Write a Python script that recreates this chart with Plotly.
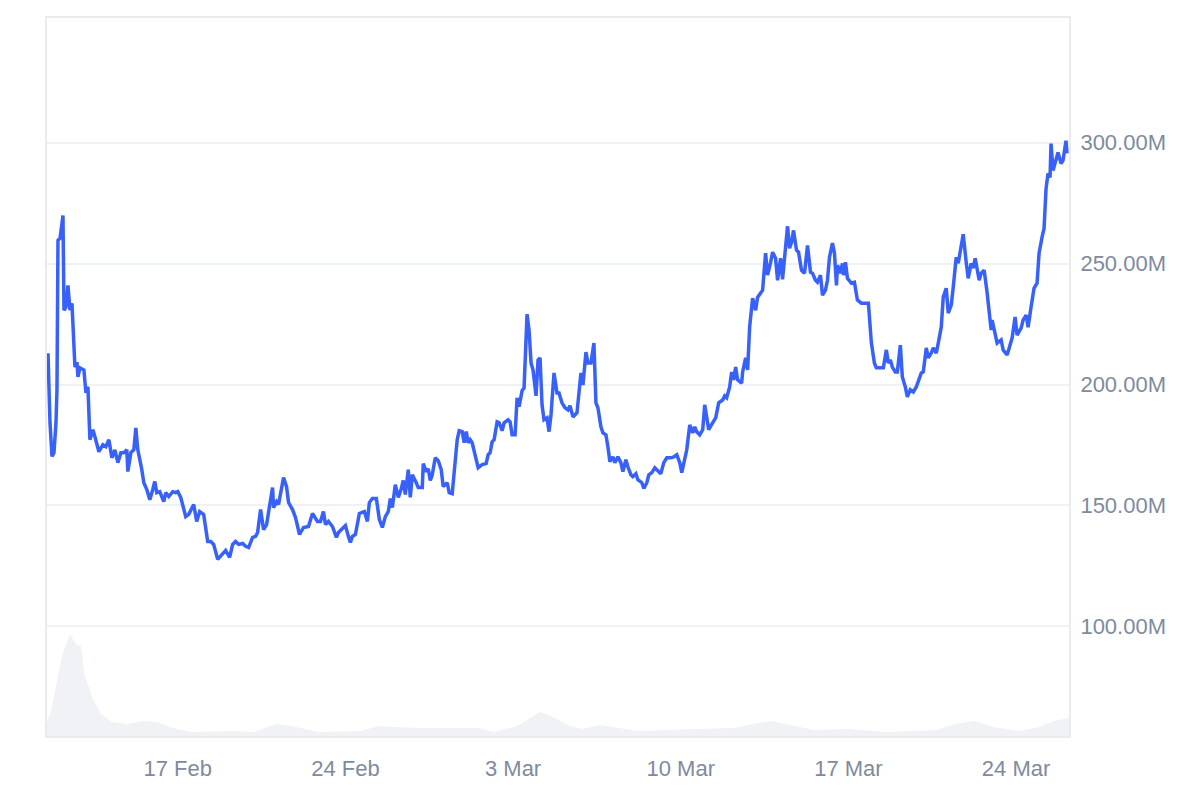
import plotly.graph_objects as go
import pandas as pd

START = pd.Timestamp("2025-02-11 00:00")

# market cap, hours since START -> millions USD
HOURS = [
    14, 16, 18, 20, 22, 23, 24, 26, 28, 29, 30, 32, 34, 36, 38, 40, 41, 43, 44, 46,
    50, 52, 54, 56, 59, 61, 65, 69, 72, 75, 78, 81, 84, 87, 90, 93, 94, 97, 100, 102,
    104, 108, 110, 113, 116, 119, 121, 123, 126, 130, 132, 135, 139, 142, 144, 147, 150, 152, 155, 160,
    163, 166, 170, 174, 177, 180, 184, 187, 192, 196, 199, 202, 205, 209, 212, 215, 219, 222, 224, 227,
    230, 233, 236, 239, 240, 243, 245, 248, 250, 253, 255, 259, 262, 266,
    270, 275, 279, 284, 287, 290, 292, 295, 299, 303, 305, 309, 312, 315, 317, 319, 322, 326, 329, 331,
    334, 336, 339, 343, 346, 349, 352, 355, 357, 359, 362, 365, 368, 370, 372, 375, 377, 379, 383, 385,
    389, 390, 393, 395, 397, 399, 402, 405, 408, 410, 414, 416, 419, 421, 424, 426, 429, 431, 433, 435,
    437, 439, 442, 445, 449, 453, 455, 457, 459, 461, 464, 466, 469, 471, 475, 477, 479, 482, 484, 486,
    489, 491, 494, 496, 498, 500, 503, 505, 507, 509, 511, 514, 516, 518, 521,
    524, 526, 529, 532, 535, 537, 540, 544, 548, 550, 553, 555, 558, 561, 563, 565, 568, 570, 573, 575,
    577, 580, 582, 585, 588, 590, 593, 595, 598, 600, 603, 605, 609, 611, 614, 616, 619, 622, 625, 628,
    631, 634, 638, 641, 644, 647, 649, 652, 654, 657, 660, 662, 664, 667, 670, 672, 674, 676, 680, 683,
    686, 690, 692, 694, 697, 699, 701, 703, 705, 709, 710, 713, 715, 717, 720, 723, 725, 728, 730, 733,
    735, 738, 740, 743, 745, 748, 750, 753, 755, 757, 759, 761, 764, 766, 769, 772, 775,
    778, 780, 783, 785, 788, 790, 793, 795, 797, 800, 802, 804, 805, 808, 810, 811, 813, 815, 819, 822,
    825, 829, 832, 836, 839, 842, 844, 848, 851, 854, 856, 858, 860, 863, 865, 868, 870, 873, 875, 878,
    881, 884, 886, 889, 891, 894, 896, 899, 901, 904, 906, 909, 911, 914, 916, 919, 921, 924, 926, 929,
    931, 934, 936, 939, 941, 943, 945, 947, 949, 952, 955, 957, 959, 960, 963, 965, 969, 971, 975, 977,
    980, 983, 985, 989, 991, 994, 996, 999, 1002, 1005, 1007, 1010, 1012, 1014, 1016, 1018, 1019, 1021, 1024, 1026,
    1029, 1031, 1034, 1035,
]
MCAP = [
    212.9, 184.2, 170.3, 171.8, 184.2, 197.8, 259.6, 260.4, 266.6, 269.9, 230.7, 232.0, 241.0, 230.7, 233.6, 211.4, 207.2, 209.3, 203.1, 206.9,
    206.0, 196.5, 199.0, 177.2, 181.3, 178.4, 172.2, 175.1, 174.3, 177.2, 169.7, 173.0, 167.7, 171.8, 171.8, 173.0, 164.0, 171.8, 173.0, 182.1,
    173.0, 164.8, 159.4, 156.6, 152.4, 156.6, 159.9, 155.3, 155.7, 151.6, 155.3, 153.7, 155.7, 155.3, 155.7, 153.3, 148.3, 145.4, 146.3, 150.4,
    143.4, 147.5, 146.3, 135.1, 135.1, 133.9, 127.7, 128.9, 131.4, 128.5, 133.9, 135.1, 133.9, 134.3, 133.1, 132.6, 136.8, 137.2, 138.8, 148.3,
    140.0, 142.1, 149.5, 157.4, 149.1, 151.6, 150.4, 156.6, 161.5, 157.8, 151.2, 148.3, 145.0, 138.0,
    140.9, 141.3, 146.7, 143.4, 143.4, 147.5, 142.1, 143.4, 141.3, 136.8, 138.8, 140.5, 141.7, 137.2, 134.7, 137.2, 138.0, 146.7, 147.1, 147.5,
    143.4, 151.2, 152.9, 152.9, 144.2, 140.9, 145.4, 147.5, 152.9, 149.1, 158.6, 153.3, 157.0, 160.3, 154.5, 164.8, 153.3, 162.7, 159.4, 157.4,
    157.4, 167.3, 164.0, 165.2, 160.3, 162.7, 169.7, 168.5, 164.8, 157.8, 159.4, 155.3, 154.9, 164.8, 177.2, 180.9, 180.5, 175.9, 180.5, 175.9,
    177.2, 175.9, 170.1, 165.6, 166.9, 167.3, 171.0, 171.8, 176.3, 177.2, 184.6, 184.2, 180.9, 184.2, 185.4, 184.6, 179.2, 179.2, 194.5, 190.8,
    197.4, 198.6, 229.1, 222.5, 208.9, 206.0, 195.3, 210.1, 211.0, 191.6, 185.4, 186.2, 180.5, 187.5, 204.8,
    196.5, 196.5, 192.4, 190.4, 189.5, 191.2, 186.6, 188.3, 204.8, 199.8, 213.4, 208.9, 208.9, 217.1, 192.4, 190.4, 182.5, 180.0, 179.2, 174.3,
    168.1, 170.1, 167.7, 170.1, 167.7, 164.0, 168.9, 166.0, 162.7, 161.9, 163.1, 160.7, 159.4, 157.0, 159.4, 162.7, 163.6, 165.6, 164.4, 163.1,
    167.7, 169.7, 169.7, 170.1, 171.0, 167.7, 163.6, 169.3, 173.0, 183.3, 180.0, 182.5, 180.5, 179.2, 181.3, 191.6, 187.1, 181.3, 184.2, 186.2,
    192.4, 193.6, 195.3, 194.5, 199.0, 205.2, 201.9, 207.2, 201.9, 200.6, 205.2, 211.0, 206.0, 223.7, 235.7, 230.7, 236.1, 238.2, 239.0, 254.3,
    245.2, 250.5, 254.7, 252.2, 243.1, 252.2, 243.5, 256.7, 265.4, 256.3, 258.8, 263.7, 255.5, 254.7, 247.2, 246.0, 257.5,
    246.4, 246.0, 243.1, 242.3, 245.2, 236.9, 239.0, 243.1, 252.6, 258.4, 254.3, 241.0, 249.3, 246.0, 250.1, 245.2, 250.5, 243.9, 241.9, 242.3,
    234.9, 233.6, 233.6, 233.6, 217.1, 208.9, 206.9, 206.9, 206.9, 214.3, 208.9, 210.1, 207.2, 205.2, 205.2, 216.3, 203.1, 199.0, 194.9, 197.8,
    196.9, 199.0, 201.0, 204.8, 205.2, 215.1, 211.0, 213.0, 215.1, 213.0, 217.1, 223.7, 236.1, 239.8, 229.5, 232.8, 240.2, 252.6, 250.1, 256.7,
    262.1, 250.5, 243.9, 250.1, 248.1, 252.2, 246.4, 243.1, 246.0, 247.2, 237.8, 230.7, 222.5, 226.6, 220.4, 217.1, 218.4, 214.3, 212.2, 215.5,
    219.2, 227.9, 220.4, 223.3, 226.6, 228.7, 223.7, 232.0, 239.8, 241.9, 254.3, 260.9, 264.5, 281.0, 287.2, 285.6, 299.6, 288.5, 292.6, 295.9,
    291.3, 292.6, 300.8, 295.5,
]

# trading volume (relative, millions)
VOL_HOURS = [13, 17, 24, 28, 36, 42, 47, 51, 59, 67, 78, 93, 109, 124, 139, 158, 197, 220, 243, 258,
             285, 327, 346, 361, 388, 445, 461, 484, 507, 518, 537, 549, 567, 605, 663, 701, 720, 739, 758, 781,
             816, 854, 904, 923, 942, 961, 988, 1007, 1022, 1037]
VOLUME = [7, 12.5, 30, 40, 51, 46, 45, 30, 18.5, 11, 7, 6, 7.5, 7, 4, 2, 2.5, 2, 6, 5,
          2, 2.5, 5, 4.5, 4, 4, 2, 5, 12, 10, 5, 3.5, 5.5, 2.5, 3.5, 4, 6, 7.5, 5.5, 3,
          3.5, 2, 3, 6, 7.5, 4.5, 2.5, 4.5, 7.5, 9]

TICK_DATES = ["2025-02-17", "2025-02-24", "2025-03-03", "2025-03-10", "2025-03-17", "2025-03-24"]
Y_TICKS = [100, 150, 200, 250, 300]

LINE_COLOR = "#3861fb"
VOL_COLOR = "#f0f2f5"
GRID_COLOR = "#eff2f5"
BORDER_COLOR = "#e9ebee"
TEXT_COLOR = "#808a9d"
FONT = "Arial, Liberation Sans, sans-serif"

x_price = START + pd.to_timedelta(HOURS, unit="h")
x_vol = START + pd.to_timedelta(VOL_HOURS, unit="h")

fig = go.Figure()
fig.add_trace(go.Scatter(x=x_vol, y=VOLUME, mode="lines", fill="tozeroy",
                         line=dict(width=0, color=VOL_COLOR), fillcolor=VOL_COLOR,
                         yaxis="y2", hoverinfo="skip"))
fig.add_trace(go.Scatter(x=x_price, y=MCAP, mode="lines",
                         line=dict(color=LINE_COLOR, width=3.5), name="Market cap"))

fig.update_layout(
    width=1199, height=799,
    # page body adds ~8px offset, margins compensate
    margin=dict(l=39, r=138, t=8, b=71),
    paper_bgcolor="white", plot_bgcolor="white",
    showlegend=False,
    font=dict(family=FONT, size=22, color=TEXT_COLOR),
    xaxis=dict(
        type="date",
        range=[START + pd.Timedelta(hours=13), START + pd.Timedelta(hours=1037)],
        tickvals=pd.to_datetime(TICK_DATES), tickformat="%-d %b",
        showgrid=False, zeroline=False,
        showline=True, mirror=True, linecolor=BORDER_COLOR, linewidth=2,
        ticks="", ticklabelstandoff=12,
    ),
    yaxis=dict(
        side="right", range=[54.7, 351.5],
        tickvals=Y_TICKS, ticktext=[f"{v:.2f}M" for v in Y_TICKS],
        showgrid=True, gridcolor=GRID_COLOR, gridwidth=1.5, zeroline=False,
        showline=True, mirror=True, linecolor=BORDER_COLOR, linewidth=2,
        ticks="", ticklabelstandoff=5,
    ),
    yaxis2=dict(overlaying="y", range=[0, 360], visible=False, fixedrange=True),
)

fig.write_html("out.html")
